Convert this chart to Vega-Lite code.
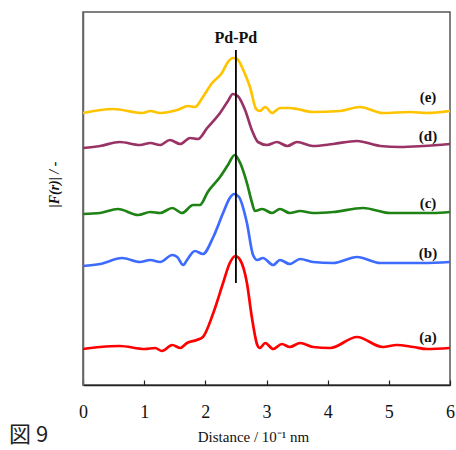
{
  "$schema": "https://vega.github.io/schema/vega-lite/v6.json",
  "autosize": {"type": "none"},
  "padding": {"left": 83, "top": 12, "right": 6, "bottom": 65},
  "width": 367,
  "height": 373,
  "background": "white",
  "config": {
    "view": {"stroke": "#555555", "strokeWidth": 1.5},
    "font": "Liberation Serif"
  },
  "title": {
    "text": "図 9",
    "orient": "bottom",
    "anchor": "start",
    "frame": "group",
    "dx": -74,
    "offset": -19,
    "font": "Noto Sans CJK JP",
    "fontSize": 22,
    "fontWeight": "normal",
    "color": "#222222"
  },
  "datasets": {
    "curves": [
      {"s": "a", "x": 0, "y": 36}, {"s": "a", "x": 0.28, "y": 38}, {"s": "a", "x": 0.6, "y": 39}, {"s": "a", "x": 1.01, "y": 36}, {"s": "a", "x": 1.18, "y": 37}, {"s": "a", "x": 1.29, "y": 34}, {"s": "a", "x": 1.46, "y": 40}, {"s": "a", "x": 1.59, "y": 37}, {"s": "a", "x": 1.7, "y": 42}, {"s": "a", "x": 1.86, "y": 45}, {"s": "a", "x": 1.96, "y": 48}, {"s": "a", "x": 2.13, "y": 72}, {"s": "a", "x": 2.29, "y": 102}, {"s": "a", "x": 2.4, "y": 122}, {"s": "a", "x": 2.49, "y": 129}, {"s": "a", "x": 2.57, "y": 125}, {"s": "a", "x": 2.68, "y": 102}, {"s": "a", "x": 2.76, "y": 68}, {"s": "a", "x": 2.85, "y": 40}, {"s": "a", "x": 2.89, "y": 37}, {"s": "a", "x": 2.98, "y": 42}, {"s": "a", "x": 3.11, "y": 36}, {"s": "a", "x": 3.25, "y": 41}, {"s": "a", "x": 3.38, "y": 38}, {"s": "a", "x": 3.55, "y": 42}, {"s": "a", "x": 3.76, "y": 38}, {"s": "a", "x": 4.04, "y": 37}, {"s": "a", "x": 4.48, "y": 48}, {"s": "a", "x": 4.9, "y": 38}, {"s": "a", "x": 5.13, "y": 40}, {"s": "a", "x": 5.4, "y": 38}, {"s": "a", "x": 5.62, "y": 36}, {"s": "a", "x": 6, "y": 37},
      {"s": "b", "x": 0, "y": 119}, {"s": "b", "x": 0.28, "y": 121}, {"s": "b", "x": 0.64, "y": 127}, {"s": "b", "x": 0.93, "y": 123}, {"s": "b", "x": 1.1, "y": 125}, {"s": "b", "x": 1.26, "y": 123}, {"s": "b", "x": 1.46, "y": 130}, {"s": "b", "x": 1.54, "y": 128}, {"s": "b", "x": 1.64, "y": 120}, {"s": "b", "x": 1.7, "y": 125}, {"s": "b", "x": 1.83, "y": 134}, {"s": "b", "x": 1.96, "y": 131}, {"s": "b", "x": 2.13, "y": 148}, {"s": "b", "x": 2.29, "y": 172}, {"s": "b", "x": 2.4, "y": 187}, {"s": "b", "x": 2.47, "y": 191}, {"s": "b", "x": 2.55, "y": 188}, {"s": "b", "x": 2.68, "y": 162}, {"s": "b", "x": 2.78, "y": 130}, {"s": "b", "x": 2.85, "y": 125}, {"s": "b", "x": 2.94, "y": 127}, {"s": "b", "x": 3.11, "y": 120}, {"s": "b", "x": 3.22, "y": 125}, {"s": "b", "x": 3.38, "y": 121}, {"s": "b", "x": 3.55, "y": 126}, {"s": "b", "x": 3.76, "y": 123}, {"s": "b", "x": 4.09, "y": 122}, {"s": "b", "x": 4.48, "y": 128}, {"s": "b", "x": 4.86, "y": 122}, {"s": "b", "x": 5.18, "y": 122}, {"s": "b", "x": 5.56, "y": 122}, {"s": "b", "x": 6, "y": 123},
      {"s": "c", "x": 0, "y": 171}, {"s": "c", "x": 0.28, "y": 172}, {"s": "c", "x": 0.57, "y": 176}, {"s": "c", "x": 0.9, "y": 170}, {"s": "c", "x": 1.1, "y": 173}, {"s": "c", "x": 1.26, "y": 172}, {"s": "c", "x": 1.46, "y": 177}, {"s": "c", "x": 1.62, "y": 172}, {"s": "c", "x": 1.8, "y": 180}, {"s": "c", "x": 1.91, "y": 180}, {"s": "c", "x": 2.04, "y": 193}, {"s": "c", "x": 2.24, "y": 208}, {"s": "c", "x": 2.37, "y": 220}, {"s": "c", "x": 2.48, "y": 230}, {"s": "c", "x": 2.57, "y": 222}, {"s": "c", "x": 2.68, "y": 202}, {"s": "c", "x": 2.76, "y": 183}, {"s": "c", "x": 2.81, "y": 174}, {"s": "c", "x": 2.93, "y": 176}, {"s": "c", "x": 3.09, "y": 172}, {"s": "c", "x": 3.22, "y": 176}, {"s": "c", "x": 3.38, "y": 172}, {"s": "c", "x": 3.55, "y": 174}, {"s": "c", "x": 3.76, "y": 172}, {"s": "c", "x": 4.09, "y": 173}, {"s": "c", "x": 4.58, "y": 177}, {"s": "c", "x": 5.02, "y": 172}, {"s": "c", "x": 5.4, "y": 172}, {"s": "c", "x": 5.72, "y": 172}, {"s": "c", "x": 6, "y": 173},
      {"s": "d", "x": 0, "y": 237}, {"s": "d", "x": 0.28, "y": 239}, {"s": "d", "x": 0.6, "y": 243}, {"s": "d", "x": 0.93, "y": 240}, {"s": "d", "x": 1.1, "y": 242}, {"s": "d", "x": 1.26, "y": 240}, {"s": "d", "x": 1.42, "y": 245}, {"s": "d", "x": 1.59, "y": 241}, {"s": "d", "x": 1.75, "y": 247}, {"s": "d", "x": 1.88, "y": 246}, {"s": "d", "x": 2.03, "y": 257}, {"s": "d", "x": 2.24, "y": 272}, {"s": "d", "x": 2.37, "y": 284}, {"s": "d", "x": 2.45, "y": 291}, {"s": "d", "x": 2.53, "y": 289}, {"s": "d", "x": 2.65, "y": 275}, {"s": "d", "x": 2.76, "y": 255}, {"s": "d", "x": 2.86, "y": 243}, {"s": "d", "x": 3.01, "y": 240}, {"s": "d", "x": 3.17, "y": 243}, {"s": "d", "x": 3.34, "y": 239}, {"s": "d", "x": 3.5, "y": 243}, {"s": "d", "x": 3.76, "y": 239}, {"s": "d", "x": 4.09, "y": 241}, {"s": "d", "x": 4.48, "y": 244}, {"s": "d", "x": 4.86, "y": 239}, {"s": "d", "x": 5.18, "y": 238}, {"s": "d", "x": 5.56, "y": 239}, {"s": "d", "x": 6, "y": 241},
      {"s": "e", "x": 0, "y": 272}, {"s": "e", "x": 0.49, "y": 276}, {"s": "e", "x": 0.97, "y": 272}, {"s": "e", "x": 1.1, "y": 274}, {"s": "e", "x": 1.26, "y": 272}, {"s": "e", "x": 1.54, "y": 275}, {"s": "e", "x": 1.72, "y": 279}, {"s": "e", "x": 1.83, "y": 278}, {"s": "e", "x": 1.96, "y": 288}, {"s": "e", "x": 2.11, "y": 302}, {"s": "e", "x": 2.27, "y": 312}, {"s": "e", "x": 2.37, "y": 323}, {"s": "e", "x": 2.45, "y": 327}, {"s": "e", "x": 2.52, "y": 326}, {"s": "e", "x": 2.62, "y": 315}, {"s": "e", "x": 2.73, "y": 298}, {"s": "e", "x": 2.83, "y": 276}, {"s": "e", "x": 2.89, "y": 274}, {"s": "e", "x": 2.98, "y": 278}, {"s": "e", "x": 3.09, "y": 272}, {"s": "e", "x": 3.22, "y": 277}, {"s": "e", "x": 3.38, "y": 277}, {"s": "e", "x": 3.5, "y": 276}, {"s": "e", "x": 3.76, "y": 273}, {"s": "e", "x": 4.2, "y": 274}, {"s": "e", "x": 4.53, "y": 278}, {"s": "e", "x": 4.9, "y": 272}, {"s": "e", "x": 5.35, "y": 273}, {"s": "e", "x": 5.62, "y": 272}, {"s": "e", "x": 6, "y": 274}
    ],
    "labels": [
      {"label": "(a)", "x": 5.64, "y": 48},
      {"label": "(b)", "x": 5.64, "y": 132},
      {"label": "(c)", "x": 5.64, "y": 182},
      {"label": "(d)", "x": 5.64, "y": 249},
      {"label": "(e)", "x": 5.64, "y": 288}
    ],
    "marker": [
      {"label": "Pd-Pd", "x": 2.5, "y": 102, "y2": 335, "ty": 347}
    ]
  },
  "layer": [
    {
      "data": {"name": "curves"},
      "mark": {"type": "line", "interpolate": "monotone", "strokeWidth": 2.7},
      "encoding": {
        "x": {
          "field": "x", "type": "quantitative",
          "scale": {"domain": [0, 6], "nice": false, "zero": false},
          "axis": {
            "title": "Distance / 10⁻¹ nm",
            "titleFont": "Liberation Serif",
            "titleFontSize": 15,
            "titleFontWeight": "normal",
            "titleColor": "#111111",
            "titleX": 170,
            "titleY": 51,
            "titleAlign": "center",
            "titleBaseline": "middle",
            "values": [0, 1, 2, 3, 4, 5, 6],
            "format": "d",
            "labelFont": "Liberation Serif",
            "labelFontSize": 18,
            "labelColor": "#111111",
            "labelPadding": 23,
            "labelFlush": false,
            "tickSize": -5,
            "tickColor": "#222222",
            "tickWidth": 1.2,
            "domainColor": "#222222",
            "domainWidth": 1.5,
            "grid": false
          }
        },
        "y": {
          "field": "y", "type": "quantitative",
          "scale": {"domain": [0, 373], "nice": false, "zero": false},
          "axis": {
            "title": "|F(r)| / -",
            "titleFont": "Liberation Serif",
            "titleFontSize": 14,
            "titleFontWeight": "bold",
            "titleFontStyle": "italic",
            "titleColor": "#111111",
            "titleX": -29,
            "titleY": 172,
            "titleAlign": "center",
            "titleBaseline": "middle",
            "labels": false,
            "ticks": false,
            "grid": false,
            "domainColor": "#666666",
            "domainWidth": 1.5
          }
        },
        "color": {
          "field": "s", "type": "nominal",
          "scale": {"domain": ["a", "b", "c", "d", "e"], "range": ["#FF0000", "#3D6BFF", "#1E8214", "#993366", "#FFC400"]},
          "legend": null
        },
        "detail": {"field": "s"}
      }
    },
    {
      "data": {"name": "marker"},
      "mark": {"type": "rule", "color": "#000000", "strokeWidth": 1.8},
      "encoding": {
        "x": {"field": "x", "type": "quantitative"},
        "y": {"field": "y", "type": "quantitative"},
        "y2": {"field": "y2"}
      }
    },
    {
      "data": {"name": "marker"},
      "mark": {"type": "text", "font": "Liberation Serif", "fontSize": 16, "fontWeight": "bold", "color": "#111111", "baseline": "middle", "align": "center"},
      "encoding": {
        "x": {"field": "x", "type": "quantitative"},
        "y": {"field": "ty", "type": "quantitative"},
        "text": {"field": "label"}
      }
    },
    {
      "data": {"name": "labels"},
      "mark": {"type": "text", "font": "Liberation Serif", "fontSize": 15, "fontWeight": "bold", "color": "#111111", "baseline": "middle", "align": "center"},
      "encoding": {
        "x": {"field": "x", "type": "quantitative"},
        "y": {"field": "y", "type": "quantitative"},
        "text": {"field": "label"}
      }
    }
  ]
}
